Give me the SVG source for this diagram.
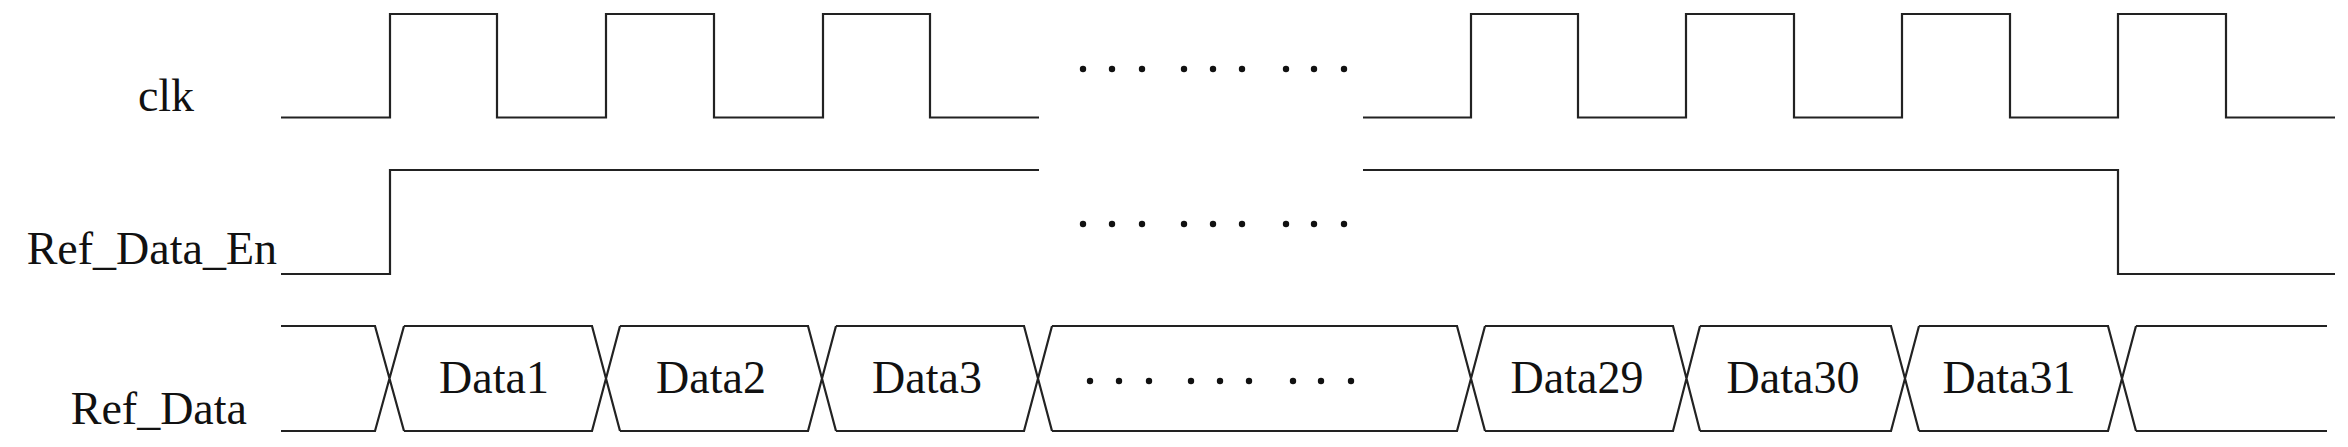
<svg xmlns="http://www.w3.org/2000/svg" width="2348" height="447" viewBox="0 0 2348 447">
<style>
.w{fill:none;stroke:#222;stroke-width:2.2}
.t{font-family:"Liberation Serif",serif;font-size:46px;fill:#111}
.d{fill:#111}
</style>
<rect width="2348" height="447" fill="#fff"/>
<g id="labels">
<text class="t" x="166" y="111" text-anchor="middle">clk</text>
<text class="t" x="277" y="264" text-anchor="end">Ref_Data_En</text>
<text class="t" x="247" y="424" text-anchor="end">Ref_Data</text>
</g>
<g id="clk">
<path class="w" d="M281 117.5H390V14H497V117.5H606V14H714V117.5H823V14H930V117.5H1039"/>
<path class="w" d="M1363 117.5H1471V14H1578V117.5H1686V14H1794V117.5H1902V14H2010V117.5H2118V14H2226V117.5H2335"/>
</g>
<g id="en">
<path class="w" d="M281 274H390V170H1039"/>
<path class="w" d="M1363 170H2118V274H2335"/>
</g>
<g id="data" class="w">
<path d="M281 326H375L404 431M281 431H375L404 326"/>
<path d="M404 326H592L620 431M404 431H592L620 326"/>
<path d="M620 326H808L836 431M620 431H808L836 326"/>
<path d="M836 326H1024L1052 431M836 431H1024L1052 326"/>
<path d="M1052 326H1457L1485 431M1052 431H1457L1485 326"/>
<path d="M1485 326H1673L1700 431M1485 431H1673L1700 326"/>
<path d="M1700 326H1891L1919 431M1700 431H1891L1919 326"/>
<path d="M1919 326H2108L2136 431M1919 431H2108L2136 326"/>
<path d="M2136 326H2327M2136 431H2327"/>
</g>
<g id="datalabels">
<text class="t" x="494" y="393" text-anchor="middle">Data1</text>
<text class="t" x="711" y="393" text-anchor="middle">Data2</text>
<text class="t" x="927" y="393" text-anchor="middle">Data3</text>
<text class="t" x="1577" y="393" text-anchor="middle">Data29</text>
<text class="t" x="1793" y="393" text-anchor="middle">Data30</text>
<text class="t" x="2009" y="393" text-anchor="middle">Data31</text>
</g>
<g id="dots" class="d">
<circle cx="1083" cy="69" r="3.2"/><circle cx="1112" cy="69" r="3.2"/><circle cx="1142" cy="69" r="3.2"/><circle cx="1184" cy="69" r="3.2"/><circle cx="1213" cy="69" r="3.2"/><circle cx="1242" cy="69" r="3.2"/><circle cx="1286" cy="69" r="3.2"/><circle cx="1314" cy="69" r="3.2"/><circle cx="1344" cy="69" r="3.2"/>
<circle cx="1083" cy="224" r="3.2"/><circle cx="1112" cy="224" r="3.2"/><circle cx="1142" cy="224" r="3.2"/><circle cx="1184" cy="224" r="3.2"/><circle cx="1213" cy="224" r="3.2"/><circle cx="1242" cy="224" r="3.2"/><circle cx="1286" cy="224" r="3.2"/><circle cx="1314" cy="224" r="3.2"/><circle cx="1344" cy="224" r="3.2"/>
<circle cx="1090" cy="381" r="3.2"/><circle cx="1119" cy="381" r="3.2"/><circle cx="1149" cy="381" r="3.2"/><circle cx="1191" cy="381" r="3.2"/><circle cx="1220" cy="381" r="3.2"/><circle cx="1249" cy="381" r="3.2"/><circle cx="1293" cy="381" r="3.2"/><circle cx="1321" cy="381" r="3.2"/><circle cx="1351" cy="381" r="3.2"/>
</g>
</svg>
